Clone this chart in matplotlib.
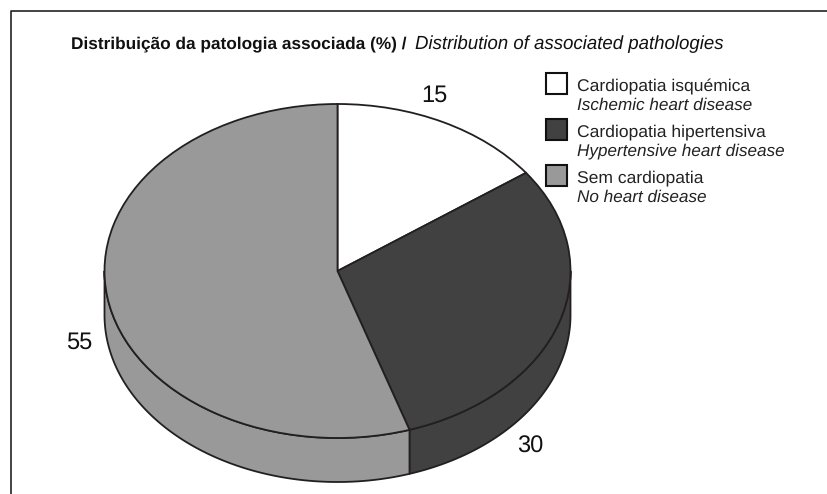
import numpy as np
import matplotlib
matplotlib.use("Agg")
import matplotlib.pyplot as plt
from matplotlib.patches import Rectangle
from matplotlib.lines import Line2D

plt.rcParams['font.family'] = ['Liberation Sans', 'DejaVu Sans']
plt.rcParams['text.hinting'] = 'no_hinting'

values = [15, 30, 55]
labels_pt = ["Cardiopatia isquémica", "Cardiopatia hipertensiva", "Sem cardiopatia"]
labels_en = ["Ischemic heart disease", "Hypertensive heart disease", "No heart disease"]
colors = ["#ffffff", "#414141", "#999999"]
edge = "#231f20"

W, H = 828, 494
cx, cy, rx, ry = 337.5, 271, 233, 167
depth = 44 / ry


def fx(x):
    return x / W


def fy(y):
    return 1 - y / H


fig = plt.figure(figsize=(W / 100, H / 100), dpi=100)
ax = fig.add_axes([0, 0, 1, 1])

# side wall first, only the front half of the disc shows
start = 90
for val, col in zip(values, colors):
    end = start - val * 3.6
    a0, a1 = max(end, -180), min(start, 0)
    if a1 > a0:
        t = np.radians(np.linspace(a0, a1, 120))
        xs = np.concatenate([np.cos(t), np.cos(t[::-1])])
        ys = np.concatenate([np.sin(t), np.sin(t[::-1]) - depth])
        ax.fill(xs, ys, facecolor=col, edgecolor=edge, lw=1.3, joinstyle="round")
    start = end

ax.pie(values, colors=colors, startangle=90, counterclock=False, radius=1,
       wedgeprops={"edgecolor": edge, "linewidth": 1.3})

# pie() forces equal aspect, the tilted disc needs it off
ax.set_aspect("auto")
ax.set_xlim(-cx / rx, (W - cx) / rx)
ax.set_ylim((cy - H) / ry, cy / ry)
ax.axis("off")

# outer frame, only left and top sides are in the picture
fig.add_artist(Line2D([fx(10.5), fx(10.5), fx(828)],
                      [fy(494), fy(11.5), fy(11.5)],
                      color="#222222", lw=1.2))

fig.text(fx(71), fy(44), "Distribuição da patologia associada (%) /", fontsize=12.4,
         fontweight="bold", va="center", color="#111111")
fig.text(fx(415), fy(44), "Distribution of associated pathologies", fontsize=13.4,
         fontstyle="italic", va="center", color="#111111")

value_pos = [(434, 96), (530, 447), (79, 343)]
for val, (x, y) in zip(values, value_pos):
    fig.text(fx(x), fy(y), str(val), fontsize=17, ha="center", va="center", color="#111111")

for i, (pt, en, col) in enumerate(zip(labels_pt, labels_en, colors)):
    top = 73 + i * 46
    fig.add_artist(Rectangle((fx(546), fy(top + 21)), 21 / W, 21 / H, facecolor=col,
                             edgecolor="#111111", lw=1.5, transform=fig.transFigure))
    fig.text(fx(577), fy(top + 13.5), pt, fontsize=12.6, va="center", color="#222222")
    fig.text(fx(577), fy(top + 32.5), en, fontsize=12.35, fontstyle="italic", va="center", color="#222222")

fig.savefig("out.png", dpi=100)
